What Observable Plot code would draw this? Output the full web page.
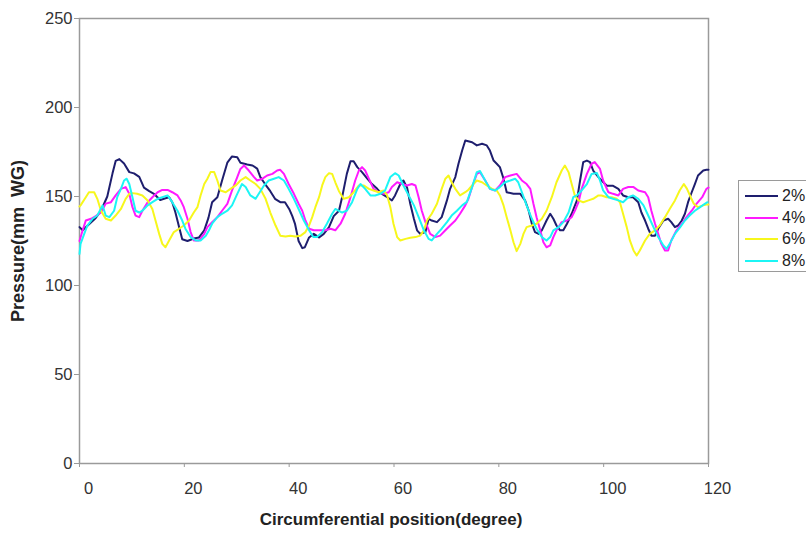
<!DOCTYPE html>
<html>
<head>
<meta charset="utf-8">
<script src="https://cdn.jsdelivr.net/npm/d3@7"></script>
<script src="https://cdn.jsdelivr.net/npm/@observablehq/plot@0.6"></script>
<style>
  html, body { margin: 0; padding: 0; background: #fff; overflow: hidden; }
  #wrap { position: relative; width: 806px; height: 536px; font-family: "Liberation Sans", Arial, sans-serif; }
  #legend { position: absolute; left: 738px; top: 180px; width: 90px; height: 92px; border: 1px solid #9a9a9a; box-sizing: border-box; background: #fff; }
  .row { position: absolute; left: 6px; height: 20px; display: flex; align-items: center; font-size: 16px; color: #222; }
  .row span.sw { display: inline-block; width: 33px; height: 0; border-top: 2px solid; margin-right: 4px; }
</style>
</head>
<body>
<div id="wrap"><div id="chart"></div><div id="legend"></div></div>
<script>
const seriesNames = ["2%", "4%", "6%", "8%"];
const seriesColors = ["#1e1e6e", "#ff1aff", "#f7f71c", "#1cf5f5"];
const xTicks = [0, 20, 40, 60, 80, 100, 120];
const yTicks = [0, 50, 100, 150, 200, 250];

// 2%
const deg2 = [0,0.6,3.0,4.1,5.3,6.3,6.9,7.6,8.5,9.5,10.4,11.4,12.3,13.3,14.2,15.4,16.4,17.1,17.7,18.3,19.0,19.6,20.6,21.8,22.8,23.8,24.6,25.3,26.3,27.2,28.2,29.1,30.1,30.7,32.0,33.0,33.9,34.5,35.4,36.4,37.3,38.3,39.2,40.0,40.6,41.1,41.8,42.5,43.0,43.8,44.7,45.7,46.6,47.6,48.5,49.5,50.1,51.0,51.7,52.3,53.0,53.9,54.9,55.8,56.8,57.7,58.7,59.6,60.2,61.2,61.8,62.5,63.1,63.8,64.4,65.0,66.0,66.6,67.2,68.2,69.1,70.1,70.7,71.7,72.3,73.0,73.6,74.9,75.8,76.8,77.7,78.3,79.0,79.6,80.2,80.9,81.5,82.8,84.1,85.0,85.7,86.3,86.9,87.6,88.2,89.1,89.8,90.4,91.0,91.7,92.3,93.0,93.9,94.9,95.5,96.1,96.8,97.4,98.0,99.0,99.6,100.6,101.8,102.8,103.7,104.7,105.6,106.6,107.2,107.9,108.5,109.1,109.8,110.4,111.4,112.3,112.9,113.6,114.2,114.9,115.5,116.1,116.8,117.4,118.0,119.0,119.6,120];
const p2 = [132.8,131,137.6,142,150,163,170,171,168.5,163.7,163,161,155,153,151.5,148,149,149.6,146.8,141,132.8,126,125,126.4,127,131,138,146.8,149.6,159,169,172.5,172,169,168,167.4,165.7,160.9,157,153,148.7,146.8,146.8,143,139,134.8,125,121,121.5,127,129,127,129,132.8,139,142,149.6,162.7,169.8,169.8,166.5,163.7,160,157,154.3,151.5,149.6,147.8,150.6,157,159,155,145.9,137.5,131,129,130,137.5,136.5,135.6,138.4,147.8,154.3,160.9,168.4,175.8,181.5,180.5,178.7,179.6,178.7,175.8,170.2,168.4,166.5,160,152.4,151.5,151.5,147.8,142,134.7,130,129,131,136.5,140.3,137.5,133.7,131,131,134.7,140.3,147.8,159,169.3,170.2,169.3,164.6,160.9,159,156,156,154.3,150.6,149.6,149.6,146.8,141,136.5,131.9,128,128,131.9,136.5,137.5,135.6,132.8,133.7,136.5,140.3,146.8,152.4,157,161.8,164.6,165,165];

// 4%
const deg4 = [0,0.6,1.2,2.2,3.1,4.1,5.0,6.0,6.9,7.9,8.8,9.5,10.1,10.7,11.4,12.0,13.0,13.9,14.9,15.8,16.8,17.7,18.7,19.3,19.9,20.6,21.2,21.8,22.8,23.8,24.4,25.3,26.3,27.2,28.2,29.1,30.1,30.7,31.4,32.3,33.3,33.9,34.9,35.8,36.8,37.7,38.3,39.0,39.9,40.9,41.8,42.5,43.1,43.8,44.7,46.0,46.9,47.9,48.8,49.8,50.7,51.7,52.6,53.3,53.9,54.5,55.2,56.1,57.1,58.0,59.0,59.6,60.6,61.5,62.5,63.4,64.1,64.7,65.3,66.0,66.9,67.9,68.8,69.8,70.7,71.7,72.6,73.6,74.2,74.9,75.8,76.4,77.4,78.3,79.3,80.2,81.2,82.2,83.4,84.4,85.3,86.0,86.6,87.2,87.9,88.5,89.1,89.8,90.4,91.0,92.0,93.0,93.9,94.5,95.2,95.8,96.8,97.7,98.3,99.3,99.9,100.9,101.8,102.8,103.7,104.7,105.7,106.6,107.9,108.5,109.1,109.8,110.4,111.0,111.7,112.3,112.9,113.9,114.9,115.8,116.8,117.7,118.8,119.6,120];
const p4 = [125,131,136.5,137.5,139,141,146,146.8,150.6,154.3,155.3,151.5,144,139.3,138.4,142,146.8,149.6,152.4,153.7,153.7,152.4,150.6,147.8,144,137.5,130,125.3,125.3,129,132.8,135.6,138.4,142,145.9,153.4,160.9,165.5,167.4,164.6,160.9,159,160,161.8,162.7,164.6,165,162.7,157,151.5,145.9,142,136.5,131.9,131,131,131,131.9,131,134.7,140.3,149.6,159,164.6,166.5,164.6,160,154.3,152.4,151.5,152.4,155.3,158,157,156.2,157,156.2,149.6,142,135.6,129,127.2,128,131,133.7,136.5,140.3,145,148.7,155.3,162.7,163.7,159,154.3,153.4,156.2,160.9,161.8,162.7,159,157,154.3,145.9,138.4,131,124.3,121.5,122.5,127.2,131,135.6,136.5,138.4,142,146.8,154.3,162.7,168.4,169.3,165.5,159,152.4,151.5,150.6,154.3,155.3,155.3,153.4,152.4,149.6,142,134.7,129,123.4,119.7,119.7,125.3,131,134.7,138.4,142,145.9,149.6,154.3,155];

// 6%
const deg6 = [0,0.2,1.2,1.8,2.8,3.4,4.1,5.0,6.0,6.9,7.9,8.8,9.5,10.1,11.0,12.0,13.0,13.9,14.5,15.2,15.8,16.4,17.1,18.0,19.0,19.9,20.9,21.8,22.5,23.1,23.8,24.4,25.0,25.7,26.3,26.9,27.9,28.8,29.8,30.7,31.7,32.6,33.6,34.5,35.5,36.4,37.4,38.3,39.3,40.2,41.2,42.2,43.1,43.8,44.4,45.0,45.7,46.3,46.9,47.6,48.2,48.8,49.5,50.4,51.4,52.3,53.3,54.2,55.2,56.1,57.1,58.0,58.7,59.3,59.9,60.6,61.2,62.2,63.1,64.1,65.0,65.7,66.3,67.2,68.2,69.1,69.8,70.4,71.0,71.7,72.6,73.6,74.2,74.9,75.8,76.8,77.7,78.7,79.6,80.2,80.9,81.5,82.2,82.8,83.4,84.1,84.7,85.3,86.3,87.2,88.2,89.1,90.1,91.0,92.0,92.6,93.3,93.9,94.5,95.2,96.1,97.1,98.0,99.0,99.6,100.6,101.5,102.5,103.1,103.7,104.4,105.0,105.7,106.3,106.9,107.9,108.8,109.8,110.7,111.7,112.6,113.6,114.5,115.3,115.9,116.6,117.2,118.0,119.0,119.6,120];
const p6 = [144.4,145,149.6,152.4,152.4,148.7,142,137.5,136.5,139.3,143,148.7,151.5,151.9,151.5,150.6,147.8,143,136.5,129,123.4,121.5,125.3,130,131.9,133.7,136.5,141,144,150.6,157,160,163.7,163.7,159,153.4,152.4,154.3,156.2,159,160.9,159,157,154.3,148.7,141,133.7,128,127.5,128,127.5,128,130,133.7,138.4,144,149.6,156.2,160.9,163.1,162.7,158,153,148.7,149.6,152.4,156.2,156.2,154.3,153.4,152.4,153.4,150.6,144,134.7,127.2,125.3,126.2,126.8,127.2,128,131,136.5,140.3,145.9,154.3,160,161.8,158,154.3,150.6,152.4,153.8,156.2,159,158,156.2,154.3,153.4,150.6,145,138.4,131,124.3,119.3,123.4,129,132.8,133.7,134.7,137.5,142,149.6,158,164.6,167.4,163.7,157,150.6,147.8,146.8,147.8,148.7,150.6,150.6,149.6,149.6,148.7,146.8,140.3,132.8,125.3,119.7,116.9,119.7,125.3,129,131,133.7,138.4,143,147.8,153.4,157,154.3,149.6,145.9,144,145,145.5,145.5];

// 8%
const deg8 = [0,0.2,0.9,1.5,2.5,3.4,4.4,5.0,5.7,6.6,7.2,7.9,8.5,9.0,9.5,10.1,10.7,11.4,12.0,13.0,13.9,14.9,15.8,16.8,17.7,18.7,19.6,20.2,21.2,22.2,23.1,24.1,24.7,25.3,26.3,27.2,28.2,29.1,30.1,31.0,31.7,32.6,33.6,34.2,35.2,36.1,37.1,38.0,39.0,39.9,40.9,41.8,42.8,43.8,44.6,45.3,46.3,47.2,48.2,48.8,50.1,51.0,52.0,53.0,53.6,54.5,55.5,56.4,57.4,58.3,59.3,60.2,60.9,61.8,62.8,63.8,64.7,65.7,66.6,67.2,68.2,69.1,70.1,71.0,72.0,73.0,73.9,74.9,75.8,76.4,77.4,78.3,79.3,80.2,81.2,82.2,83.1,83.7,84.4,85.3,86.3,87.2,88.2,89.1,89.8,90.4,91.4,92.3,93.3,94.2,94.9,95.8,96.8,97.7,98.7,99.3,99.9,100.9,101.8,102.8,103.7,104.7,105.6,106.6,107.6,108.5,109.5,110.4,111.4,112.0,112.6,113.6,114.6,115.5,116.4,117.4,118.4,119.3,119.8];
const p8 = [117.8,123.4,129,133.7,137.5,139.3,145,139.3,138.4,142,149.6,154.3,159,160,157,149.6,142,141,142,145,146.8,148.7,149.6,150.6,146.8,142,136.5,131.9,127.2,125.3,125.3,128,131,134.7,138.4,140.3,142,145,151.5,157,155.3,150.6,148.7,151.5,156.2,159,160,160.9,159,154.3,148.7,143,136.5,131,127.2,127.2,130,134.7,140.3,143,141,142,146.8,154.3,157,154.3,150.6,150.6,151.5,153.4,160.9,163.1,161.8,156.2,150.6,145,138.4,131,126.2,125.3,129,131.9,135.6,139.3,142,145,147,155.3,163.7,164.3,159,154.3,153.4,155.3,158,159,160,158,152.4,145,137.5,131.9,127.2,125.3,127.2,131,132.8,135.6,141,149.6,150.6,153.4,157,162.7,163.2,159,153.4,149.6,148.7,147.8,146.8,149.6,150.6,148.7,145,139.3,132.8,127.2,122.5,120.6,123.4,129,132.8,136.5,139.3,142,144,145.9,146.8];

const degs = [deg2, deg4, deg6, deg8];
const vals = [p2, p4, p6, p8];
const data = seriesNames.flatMap((name, i) => degs[i].map((d, j) => ({series: name, deg: d, p: vals[i][j]})));

const chart = Plot.plot({
  width: 806,
  height: 536,
  marginLeft: 79,
  marginRight: 98,
  marginTop: 18,
  marginBottom: 73,
  style: {fontFamily: "'Liberation Sans', Arial, sans-serif", fontSize: "16.5px", color: "#333", background: "#fff"},
  x: {domain: [0, 120]},
  y: {domain: [0, 250]},
  color: {domain: seriesNames, range: seriesColors},
  marks: [
    Plot.frame({stroke: "#9a9a9a", strokeWidth: 1.5}),
    Plot.axisY({ticks: yTicks, tickSize: 5, tickPadding: 2, stroke: "#9a9a9a", fill: "#333", fontSize: 16.5, label: null}),
    Plot.axisX({ticks: xTicks, tickSize: 4, stroke: "#9a9a9a", tickFormat: () => "", label: null}),
    Plot.axisX({ticks: xTicks, tickSize: 0, tickPadding: 19, dx: 9, fill: "#333", fontSize: 16.5, label: null}),
    Plot.line(data, {x: "deg", y: "p", z: "series", stroke: "series", strokeWidth: 2}),
    Plot.text(["Pressure(mm  WG)"], {frameAnchor: "left", rotate: -90, dx: -61, textAnchor: "middle", fontWeight: "bold", fontSize: 18, fill: "#222"}),
    Plot.text(["Circumferential position(degree)"], {frameAnchor: "bottom", dy: 61, dx: -3, fontWeight: "bold", fontSize: 17, fill: "#222"})
  ]
});
document.getElementById("chart").append(chart);

const legend = document.getElementById("legend");
seriesNames.forEach((name, i) => {
  const row = document.createElement("div");
  row.className = "row";
  row.style.top = (5 + i * 21.5) + "px";
  const sw = document.createElement("span");
  sw.className = "sw";
  sw.style.borderTopColor = seriesColors[i];
  row.append(sw, document.createTextNode(name));
  legend.append(row);
});
</script>
</body>
</html>
